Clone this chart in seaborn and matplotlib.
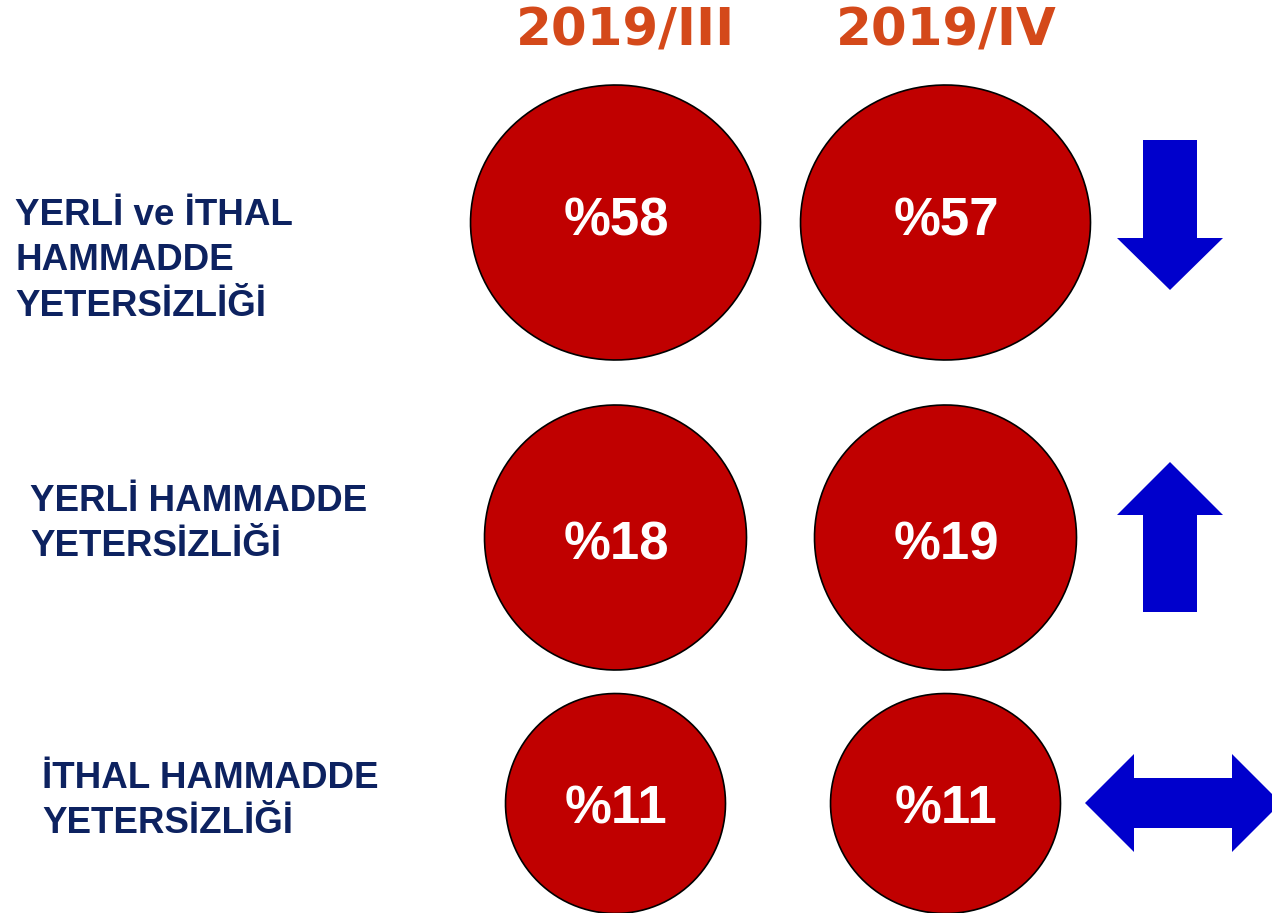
import numpy as np
import pandas as pd
import matplotlib
matplotlib.use("Agg")
import matplotlib.pyplot as plt
from matplotlib.path import Path
from matplotlib.patches import Polygon
import seaborn as sns

# ---- data ----
categories = ["YERLİ ve İTHAL\nHAMMADDE\nYETERSİZLİĞİ",
              "YERLİ HAMMADDE\nYETERSİZLİĞİ",
              "İTHAL HAMMADDE\nYETERSİZLİĞİ"]
periods = ["2019/III", "2019/IV"]
values_q3 = [58, 18, 11]
values_q4 = [57, 19, 11]

# ---- layout (pixels) ----
W, H = 1272, 913
col_x = [615, 945]
row_y = [222, 537, 803]
circ_w = [[290, 290], [262, 262], [220, 230]]
circ_h = [[275, 275], [265, 265], [220, 220]]
value_y = [217, 541, 804]      # cap-centre of the value text
header_x = [625, 946]
label_x = [15, 30, 42]
label_y = [261, 524, 801]
arrow_x = 1170

RED = "#C00000"
BLUE = "#0000CC"
ORANGE = "#D4491A"
NAVY = "#0D2260"

sns.set_theme(style="white")
plt.rcParams["font.family"] = ["Liberation Sans", "DejaVu Sans"]

fig = plt.figure(figsize=(W / 100, H / 100), dpi=100)
ax = fig.add_axes([0, 0, 1, 1])
ax.set_xlim(0, W)
ax.set_ylim(H, 0)
ax.axis("off")

pt = 72 / 100  # points per pixel

rows = []
for i in range(len(categories)):
    for j, vals in enumerate([values_q3, values_q4]):
        rows.append(dict(row=i, col=j, x=col_x[j], y=row_y[i], value=vals[i]))
df = pd.DataFrame(rows)

theta = np.linspace(0, 2 * np.pi, 120)
for _, r in df.iterrows():
    w = circ_w[r.row][r.col]
    h = circ_h[r.row][r.col]
    m = max(w, h)
    verts = np.column_stack([np.cos(theta) * w / m, np.sin(theta) * h / m])
    marker = Path(verts, closed=True)
    sns.scatterplot(x=[r.x], y=[r.y], ax=ax, marker=marker, s=(m * pt) ** 2,
                    color=RED, edgecolor="black", linewidth=1.2, zorder=2, legend=False)
    ax.text(r.x + 1, value_y[r.row] + 19, f"%{r.value}", color="white", fontsize=38,
            fontweight="bold", ha="center", va="baseline", zorder=3)

# period headers
for j, p in enumerate(periods):
    ax.text(header_x[j], 46, p, color=ORANGE, fontsize=37, fontweight="bold",
            ha="center", va="baseline", family="DejaVu Sans")

# category labels
for i, c in enumerate(categories):
    ax.text(label_x[i], label_y[i], c, color=NAVY, fontsize=26.5, fontweight="bold",
            ha="left", va="center", linespacing=1.4)


def arrow_poly(kind, cy):
    if kind == "down":
        pts = [(arrow_x - 27, cy - 82), (arrow_x + 27, cy - 82), (arrow_x + 27, cy + 16),
               (arrow_x + 53, cy + 16), (arrow_x, cy + 68), (arrow_x - 53, cy + 16),
               (arrow_x - 27, cy + 16)]
    elif kind == "up":
        pts = [(arrow_x - 27, cy + 75), (arrow_x + 27, cy + 75), (arrow_x + 27, cy - 22),
               (arrow_x + 53, cy - 22), (arrow_x, cy - 75), (arrow_x - 53, cy - 22),
               (arrow_x - 27, cy - 22)]
    else:
        l, r = 1085, 1281
        pts = [(l, cy), (l + 49, cy - 49), (l + 49, cy - 25), (r - 49, cy - 25),
               (r - 49, cy - 49), (r, cy), (r - 49, cy + 49), (r - 49, cy + 25),
               (l + 49, cy + 25), (l + 49, cy + 49)]
    return pts


for i in range(len(categories)):
    d = values_q4[i] - values_q3[i]
    kind = "down" if d < 0 else ("up" if d > 0 else "same")
    ax.add_patch(Polygon(arrow_poly(kind, row_y[i]), closed=True, color=BLUE, lw=0))

fig.savefig("out.png", dpi=100)
